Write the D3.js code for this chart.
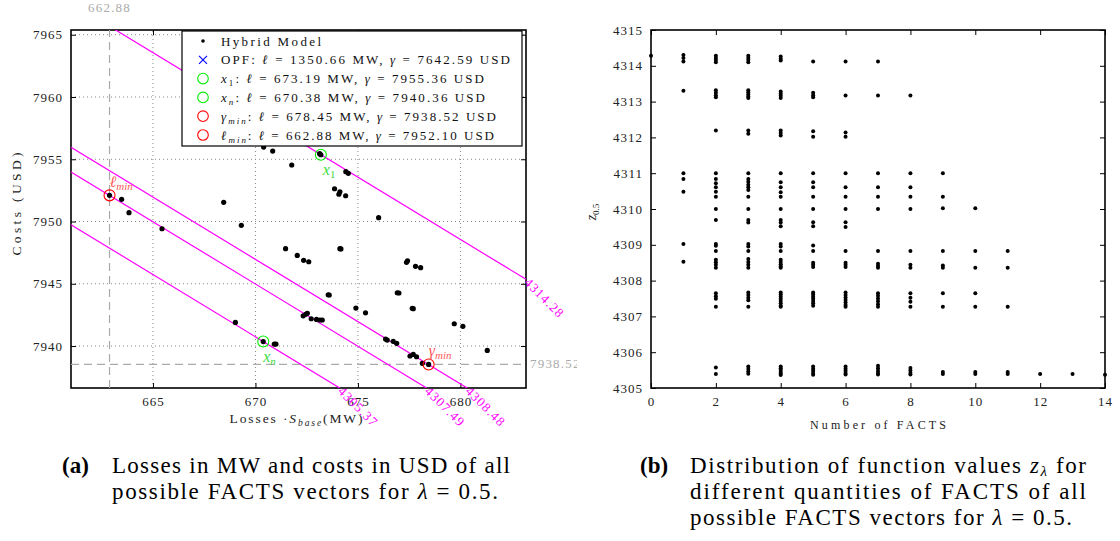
<!DOCTYPE html>
<html>
<head>
<meta charset="utf-8">
<script src="https://cdn.jsdelivr.net/npm/d3@7"></script>
<style>
  body { margin: 0; background: #fff; }
  svg, svg text { font-family: "Liberation Serif", "DejaVu Serif", serif; }
</style>
</head>
<body>
<svg id="fig" width="1120" height="541" font-family="Liberation Serif, DejaVu Serif, serif"></svg>
<script>
// ---- panel (a): losses vs costs of the hybrid model ----
const lossMW = [662.88, 663.47, 663.83, 665.44, 668.45, 669.31, 670.40, 670.84, 671.77, 673.19,
  673.13, 674.41, 674.53, 673.86, 674.12, 674.07, 674.40, 671.47, 672.04, 672.35,
  672.60, 674.12, 674.17, 673.55, 673.60, 674.90, 669.02, 670.38, 670.92, 671.00,
  672.33, 672.45, 672.53, 672.72, 672.98, 673.15, 673.26, 676.01, 677.37, 677.42,
  677.81, 678.06, 676.92, 677.00, 675.37, 677.65, 677.70, 679.70, 680.12, 676.35,
  676.43, 676.72, 676.89, 677.54, 677.70, 677.86, 678.14, 678.45, 681.31];
const costUSD = [7952.10, 7951.78, 7950.71, 7949.42, 7951.54, 7949.69, 7955.98, 7955.66, 7954.54, 7955.36,
  7955.45, 7954.00, 7953.87, 7952.63, 7952.39, 7952.19, 7952.07, 7947.82, 7947.28, 7946.88,
  7946.77, 7947.82, 7947.80, 7944.12, 7944.10, 7943.05, 7941.90, 7940.36, 7940.16, 7940.16,
  7942.43, 7942.55, 7942.63, 7942.19, 7942.14, 7942.09, 7942.09, 7950.31, 7946.72, 7946.85,
  7946.40, 7946.29, 7944.28, 7944.26, 7942.67, 7943.03, 7943.00, 7941.79, 7941.58, 7940.56,
  7940.48, 7940.38, 7940.22, 7939.20, 7939.33, 7939.14, 7938.61, 7938.52, 7939.65];

// highlighted solutions
const markKeys = ["x1", "xn", "gmin", "lmin"];
const markLoss = [673.19, 670.38, 678.45, 662.88];
const markCost = [7955.36, 7940.36, 7938.52, 7952.10];
const markColor = ["#00ee00", "#00ee00", "#ff0000", "#ff0000"];
const opfLoss = 1350.66;
const opfCost = 7642.59;

// iso-lines of z = lambda*loss + (1-lambda)*cost
const lambda = 0.5;
const isoZ = [4314.28, 4305.37, 4307.49, 4308.48];

const lossTicks = [665, 670, 675, 680];
const costTicks = [7940, 7945, 7950, 7955, 7960, 7965];

// ---- panel (b): z values per number of FACTS ----
const factsCount = [0, 1, 2, 3, 4, 5, 6, 7, 8, 9, 10, 11, 12, 13, 14];
const zByCount = [
  [4314.28],
  [4314.30, 4314.22, 4314.12, 4313.30, 4311.00, 4310.84, 4310.48, 4309.02, 4308.53],
  [4314.28, 4314.22, 4314.16, 4314.10, 4313.32, 4313.25, 4313.18, 4313.12, 4312.19, 4311.00,
   4310.84, 4310.72, 4310.61, 4310.48, 4310.34, 4310.00, 4309.69, 4309.02, 4308.97, 4308.83,
   4308.58, 4308.51, 4308.44, 4308.36, 4307.65, 4307.56, 4307.49, 4307.27, 4305.57, 4305.39],
  [4314.28, 4314.22, 4314.16, 4314.10, 4313.32, 4313.26, 4313.20, 4313.14, 4313.10, 4312.19,
   4312.10, 4311.00, 4310.84, 4310.76, 4310.68, 4310.61, 4310.53, 4310.34, 4310.00, 4309.69,
   4309.62, 4309.02, 4308.95, 4308.83, 4308.60, 4308.52, 4308.44, 4308.36, 4307.67, 4307.60,
   4307.52, 4307.45, 4307.27, 4305.60, 4305.53, 4305.46, 4305.40],
  [4314.26, 4314.20, 4314.15, 4313.28, 4313.22, 4313.16, 4313.10, 4312.19, 4312.12, 4312.05,
   4311.00, 4310.75, 4310.61, 4310.47, 4310.34, 4310.00, 4309.69, 4309.62, 4309.52, 4309.02,
   4308.95, 4308.83, 4308.58, 4308.52, 4308.46, 4308.40, 4308.36, 4307.67, 4307.61, 4307.55,
   4307.49, 4307.43, 4307.37, 4307.30, 4307.27, 4305.60, 4305.55, 4305.50, 4305.45, 4305.40, 4305.36],
  [4314.12, 4313.25, 4313.18, 4313.12, 4312.17, 4312.02, 4311.00, 4310.75, 4310.61, 4310.34,
   4310.00, 4309.63, 4309.52, 4308.98, 4308.83, 4308.50, 4308.44, 4308.38, 4307.67, 4307.61,
   4307.55, 4307.49, 4307.43, 4307.37, 4307.30, 4305.60, 4305.54, 4305.48, 4305.42, 4305.37],
  [4314.12, 4313.17, 4312.14, 4312.02, 4311.00, 4310.61, 4310.34, 4310.00, 4309.63, 4309.50,
   4308.83, 4308.50, 4308.44, 4308.38, 4307.67, 4307.60, 4307.53, 4307.46, 4307.39, 4307.32,
   4307.27, 4305.60, 4305.54, 4305.48, 4305.42, 4305.38],
  [4314.12, 4313.17, 4311.00, 4310.61, 4310.34, 4310.00, 4308.83, 4308.47, 4308.41, 4308.36,
   4307.65, 4307.58, 4307.50, 4307.42, 4307.34, 4307.27, 4305.62, 4305.55, 4305.48, 4305.42, 4305.38],
  [4313.17, 4311.00, 4310.61, 4310.34, 4310.00, 4308.83, 4308.44, 4308.36, 4307.65, 4307.52,
   4307.41, 4307.27, 4305.56, 4305.49, 4305.42, 4305.38],
  [4311.00, 4310.34, 4310.02, 4308.83, 4308.42, 4308.36, 4307.65, 4307.27, 4305.45, 4305.39],
  [4310.02, 4308.83, 4308.36, 4307.65, 4307.27, 4305.45, 4305.39],
  [4308.83, 4308.36, 4307.27, 4305.45, 4305.39],
  [4305.39],
  [4305.39],
  [4305.37]
];
const countTicks = [0, 2, 4, 6, 8, 10, 12, 14];
const zTicks = d3.range(4305, 4316);

const svg = d3.select("#fig");
const fmt2 = d3.format(".2f");
const SERIF = "Liberation Serif, DejaVu Serif, serif";

// write a list of {t, i, sub} pieces into a text node
function rich(text, parts, subSize) {
  let shifted = false;
  parts.forEach(p => {
    const ts = text.append("tspan").text(p.t);
    if (p.i) ts.attr("font-style", "italic");
    if (p.sub && !shifted) { ts.attr("dy", 3).attr("font-size", subSize); shifted = true; }
    else if (p.sub) ts.attr("font-size", subSize);
    else if (shifted) { ts.attr("dy", -3); shifted = false; }
  });
  return text;
}

function frameAxes(g, x, y, xt, yt, showGrid) {
  const [x0, x1] = x.range(), [y0, y1] = y.range();
  if (showGrid) {
    g.append("g").selectAll("line").data(xt).join("line")
      .attr("x1", d => x(d)).attr("x2", d => x(d)).attr("y1", y0).attr("y2", y1)
      .attr("stroke", "#888").attr("stroke-dasharray", "1,3");
    g.append("g").selectAll("line").data(yt).join("line")
      .attr("y1", d => y(d)).attr("y2", d => y(d)).attr("x1", x0).attr("x2", x1)
      .attr("stroke", "#888").attr("stroke-dasharray", "1,3");
  }
  const style = a => {
    a.select(".domain").remove();
    a.selectAll("line").attr("stroke", "#000");
    a.attr("font-family", SERIF).attr("font-size", 13)
      .selectAll("text").attr("fill", "#222").attr("letter-spacing", 1);
  };
  const f = d3.format("d");
  g.append("g").attr("transform", `translate(0,${y0})`)
    .call(d3.axisBottom(x).tickValues(xt).tickFormat(f).tickSizeInner(-5).tickSizeOuter(0).tickPadding(9)).call(style);
  g.append("g").attr("transform", `translate(0,${y1})`)
    .call(d3.axisTop(x).tickValues(xt).tickSizeInner(-5).tickSizeOuter(0).tickFormat("")).call(style);
  g.append("g").attr("transform", `translate(${x0},0)`)
    .call(d3.axisLeft(y).tickValues(yt).tickFormat(f).tickSizeInner(-5).tickSizeOuter(0).tickPadding(8)).call(style);
  g.append("g").attr("transform", `translate(${x1},0)`)
    .call(d3.axisRight(y).tickValues(yt).tickSizeInner(-5).tickSizeOuter(0).tickFormat("")).call(style);
  g.append("rect").attr("x", x0).attr("y", y1).attr("width", x1 - x0).attr("height", y0 - y1)
    .attr("fill", "none").attr("stroke", "#000").attr("stroke-width", 1.6);
}

// ================= panel (a) =================
const xL = d3.scaleLinear().domain([661, 683.2]).range([71, 526]);
const yL = d3.scaleLinear().domain([7936.63, 7965.38]).range([388, 30]);
const gA = svg.append("g");

gA.append("defs").append("clipPath").attr("id", "clipA").append("rect")
  .attr("x", 71).attr("y", 30).attr("width", 455).attr("height", 358);
svg.append("defs").append("clipPath").attr("id", "clipFig").append("rect")
  .attr("x", 0).attr("y", 0).attr("width", 577).attr("height", 541);

frameAxes(gA, xL, yL, lossTicks, costTicks, true);

// reference dashed lines for the minima
const lMin = markLoss[3], gMin = markCost[2];
gA.append("line").attr("x1", xL(lMin)).attr("x2", xL(lMin)).attr("y1", yL.range()[0]).attr("y2", yL.range()[1])
  .attr("stroke", "#aaa").attr("stroke-width", 1.2).attr("stroke-dasharray", "8,5");
gA.append("line").attr("y1", yL(gMin)).attr("y2", yL(gMin)).attr("x1", xL.range()[0]).attr("x2", xL.range()[1])
  .attr("stroke", "#aaa").attr("stroke-width", 1.2).attr("stroke-dasharray", "8,5");
gA.append("text").attr("x", xL(lMin)).attr("y", 12).attr("text-anchor", "middle")
  .attr("fill", "#aaa").attr("font-size", 13).attr("letter-spacing", 1.2).text(fmt2(lMin));
gA.append("text").attr("x", xL.range()[1] + 4).attr("y", yL(gMin) + 4).attr("clip-path", "url(#clipFig)")
  .attr("fill", "#aaa").attr("font-size", 13).attr("letter-spacing", 1.2).text(fmt2(gMin));

// iso-lines of z
const [dL0, dL1] = xL.domain(), [dC0] = yL.domain();
gA.append("g").attr("clip-path", "url(#clipA)").selectAll("line").data(isoZ).join("line")
  .attr("x1", xL(dL0)).attr("y1", z => yL((z - lambda * dL0) / (1 - lambda)))
  .attr("x2", xL(dL1)).attr("y2", z => yL((z - lambda * dL1) / (1 - lambda)))
  .attr("stroke", "#ff00ff").attr("stroke-width", 1.2);
gA.append("g").selectAll("text").data(isoZ).join("text")
  .attr("transform", z => {
    let l = (z - (1 - lambda) * dC0) / lambda, c = dC0;
    if (l > dL1) { l = dL1; c = (z - lambda * l) / (1 - lambda); }
    return `translate(${xL(l)},${yL(c)}) rotate(45)`;
  })
  .attr("x", 1).attr("dy", "0.35em").attr("fill", "#ff00ff").attr("font-size", 13)
  .attr("letter-spacing", 1.2).text(z => fmt2(z));

// hybrid model points
gA.append("g").attr("clip-path", "url(#clipA)").selectAll("circle").data(lossMW).join("circle")
  .attr("cx", d => xL(d)).attr("cy", (d, i) => yL(costUSD[i])).attr("r", 2.6).attr("fill", "#000");

// highlighted points
gA.append("g").selectAll("circle").data(markKeys).join("circle")
  .attr("cx", (d, i) => xL(markLoss[i])).attr("cy", (d, i) => yL(markCost[i])).attr("r", 5.5)
  .attr("fill", "none").attr("stroke", (d, i) => markColor[i]).attr("stroke-width", 1.1);

const markText = {
  x1: { parts: [{ t: "x", i: 1 }, { t: "1", sub: 1 }], dx: 2, dy: 20, c: "#3ddc3d" },
  xn: { parts: [{ t: "x", i: 1 }, { t: "n", sub: 1, i: 1 }], dx: 0, dy: 20, c: "#3ddc3d" },
  gmin: { parts: [{ t: "γ", i: 1 }, { t: "min", sub: 1, i: 1 }], dx: 0, dy: -8, c: "#ff5a5a" },
  lmin: { parts: [{ t: "ℓ", i: 1 }, { t: "min", sub: 1, i: 1 }], dx: 0, dy: -8, c: "#ff5a5a" }
};
markKeys.forEach((k, i) => {
  const m = markText[k];
  const t = gA.append("text").attr("x", xL(markLoss[i]) + m.dx).attr("y", yL(markCost[i]) + m.dy)
    .attr("fill", m.c).attr("font-size", 16);
  rich(t, m.parts, 11);
});

// legend
const leg = gA.append("g").attr("transform", "translate(182,31)");
leg.append("rect").attr("width", 340).attr("height", 115).attr("fill", "#fff")
  .attr("stroke", "#000").attr("stroke-width", 1.2);
const legRows = [
  { sym: "dot", w: 100, parts: [{ t: "Hybrid Model" }] },
  { sym: "x", w: 289, parts: [{ t: "OPF: " }, { t: "ℓ", i: 1 }, { t: ` = ${fmt2(opfLoss)} MW, ` }, { t: "γ", i: 1 }, { t: ` = ${fmt2(opfCost)} USD` }] }
];
const legHead = { x1: [{ t: "x", i: 1 }, { t: "1", sub: 1 }], xn: [{ t: "x", i: 1 }, { t: "n", sub: 1, i: 1 }],
  gmin: [{ t: "γ", i: 1 }, { t: "min", sub: 1, i: 1 }], lmin: [{ t: "ℓ", i: 1 }, { t: "min", sub: 1, i: 1 }] };
const legW = [263, 264, 275, 273];
markKeys.forEach((k, i) => legRows.push({
  sym: "o", color: markColor[i], w: legW[i],
  parts: legHead[k].concat([{ t: ": " }, { t: "ℓ", i: 1 }, { t: ` = ${fmt2(markLoss[i])} MW, ` }, { t: "γ", i: 1 }, { t: ` = ${fmt2(markCost[i])} USD` }])
}));
legRows.forEach((r, i) => {
  const cy = 10 + i * 18.8;
  if (r.sym === "dot") leg.append("circle").attr("cx", 21).attr("cy", cy).attr("r", 1.8).attr("fill", "#000");
  if (r.sym === "x") leg.append("path").attr("d", `M17,${cy - 4}L25,${cy + 4}M17,${cy + 4}L25,${cy - 4}`)
    .attr("stroke", "#0000ff").attr("stroke-width", 1.1);
  if (r.sym === "o") leg.append("circle").attr("cx", 21).attr("cy", cy).attr("r", 5.3)
    .attr("fill", "none").attr("stroke", r.color).attr("stroke-width", 1.1);
  const t = leg.append("text").attr("x", 39).attr("y", cy + 4.5).attr("font-size", 13)
    .attr("textLength", r.w).attr("lengthAdjust", "spacing").attr("fill", "#111");
  rich(t, r.parts, 9);
});

// axis titles
const xTitleA = gA.append("text").attr("x", 296).attr("y", 423).attr("text-anchor", "middle")
  .attr("font-size", 13.5).attr("textLength", 133).attr("lengthAdjust", "spacing").attr("fill", "#222");
rich(xTitleA, [{ t: "Losses ·" }, { t: "S", i: 1 }, { t: "base", sub: 1, i: 1 }, { t: "(MW)" }], 9.5);
gA.append("text").attr("transform", "translate(21,204) rotate(-90)").attr("text-anchor", "middle")
  .attr("font-size", 13.5).attr("textLength", 103).attr("lengthAdjust", "spacing")
  .attr("fill", "#222").text("Costs (USD)");

// ================= panel (b) =================
const xR = d3.scaleLinear().domain([0, 14]).range([651, 1105]);
const yR = d3.scaleLinear().domain([4305, 4315]).range([388, 30]);
const gB = svg.append("g");
frameAxes(gB, xR, yR, countTicks, zTicks, false);

const zPoints = factsCount.flatMap((n, i) => zByCount[i].map(z => ({ n, z })));
gB.append("g").selectAll("circle").data(zPoints).join("circle")
  .attr("cx", d => xR(d.n)).attr("cy", d => yR(d.z)).attr("r", 2).attr("fill", "#000");

gB.append("text").attr("x", 878).attr("y", 429).attr("text-anchor", "middle")
  .attr("font-size", 12).attr("textLength", 136).attr("lengthAdjust", "spacing")
  .attr("fill", "#222").text("Number of FACTS");
const yTitleB = gB.append("text").attr("transform", "translate(596,212) rotate(-90)")
  .attr("text-anchor", "middle").attr("font-size", 14).attr("fill", "#222");
rich(yTitleB, [{ t: "z", i: 1 }, { t: "0.5", sub: 1 }], 9);

// ================= captions =================
function caption(x, y, tag, lines) {
  svg.append("text").attr("x", x).attr("y", y).attr("font-size", 23).attr("font-weight", "bold").text(tag);
  lines.forEach((ln, i) => {
    const t = svg.append("text").attr("x", x + 50).attr("y", y + i * 26).attr("font-size", 23)
      .attr("textLength", ln.w).attr("lengthAdjust", "spacing");
    rich(t, ln.parts, 15);
  });
}
caption(62, 473, "(a)", [
  { w: 398, parts: [{ t: "Losses in MW and costs in USD of all" }] },
  { w: 386, parts: [{ t: "possible FACTS vectors for " }, { t: "λ", i: 1 }, { t: " = 0.5." }] }
]);
caption(640, 473, "(b)", [
  { w: 396, parts: [{ t: "Distribution of function values " }, { t: "z", i: 1 }, { t: "λ", sub: 1, i: 1 }, { t: " for" }] },
  { w: 396, parts: [{ t: "different quantities of FACTS of all" }] },
  { w: 382, parts: [{ t: "possible FACTS vectors for " }, { t: "λ", i: 1 }, { t: " = 0.5." }] }
]);
</script>
</body>
</html>
